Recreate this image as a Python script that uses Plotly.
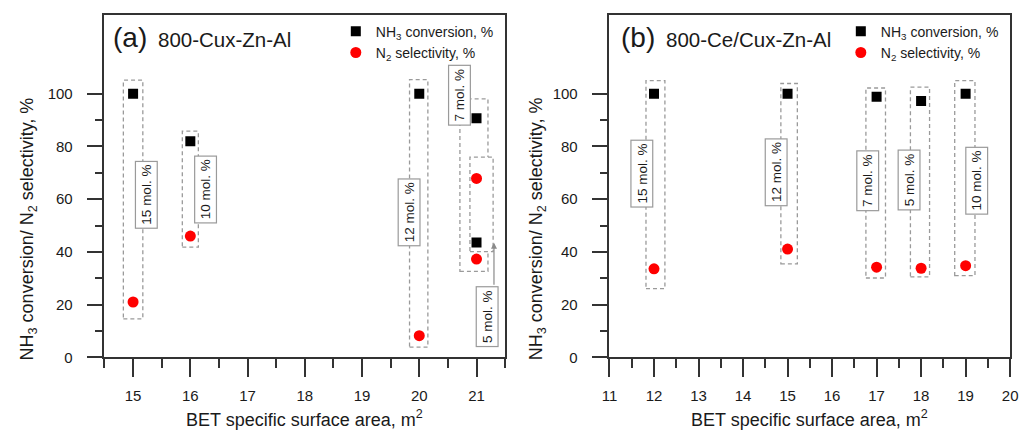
import plotly.graph_objects as go

# ---------------- data ----------------
# Panel (a): 800-Cux-Zn-Al
a_labels = ["15 mol. %", "10 mol. %", "12 mol. %", "7 mol. %", "5 mol. %"]
a_bet = [15, 16, 20, 21, 21]
a_nh3 = [100, 82, 100, 90.7, 43.6]
a_n2 = [21, 46, 8.2, 37.3, 67.9]

# Panel (b): 800-Ce/Cux-Zn-Al
b_labels = ["15 mol. %", "12 mol. %", "7 mol. %", "5 mol. %", "10 mol. %"]
b_bet = [12, 15, 17, 18, 19]
b_nh3 = [100, 100, 98.9, 97.3, 100]
b_n2 = [33.6, 41.1, 34.2, 33.8, 34.8]

a_xticks = [15, 16, 17, 18, 19, 20, 21]
b_xticks = [11, 12, 13, 14, 15, 16, 17, 18, 19, 20]
y_ticks = [0, 20, 40, 60, 80, 100]

# ---------------- decoration geometry ----------------
# dashed group boxes (x0, x1, y0, y1) in data units
a_boxes = [(14.83, 15.17, 14.6, 105.2), (15.86, 16.14, 41.8, 85.8),
           (19.83, 20.15, 3.9, 105.4), (20.71, 21.20, 32.6, 98.1),
           (20.885, 21.29, 40.1, 76.0)]
a_box_fill = [False, False, False, False, True]
a_label_pos = [(15.24, 61.6), (16.27, 63.6), (19.82, 55.0), (20.70, 99.4), (21.19, 15.4)]

b_boxes = [(11.82, 12.245, 26.1, 105.0), (14.85, 15.22, 35.5, 103.9),
           (16.76, 17.20, 30.1, 102.2), (17.76, 18.19, 30.5, 102.5),
           (18.755, 19.21, 31.0, 105.0)]
b_label_pos = [(11.73, 69.7), (14.74, 70.2), (16.79, 66.9), (17.74, 67.3), (19.255, 67.0)]

W, H = 1027, 437
FONT = "Liberation Sans, Arial, sans-serif"
AX = "#333333"
TXT = "#1a1a1a"


def px_x(p):
    return p / W


def px_y(p):
    return 1 - p / H


fig = go.Figure()

square = dict(symbol="square", size=10, color="black")
circle = dict(symbol="circle", size=11, color="#ff0000")

fig.add_trace(go.Scatter(x=a_bet, y=a_nh3, mode="markers", marker=square,
                         name="NH<sub>3</sub> conversion, %", xaxis="x", yaxis="y",
                         legend="legend"))
fig.add_trace(go.Scatter(x=a_bet, y=a_n2, mode="markers", marker=circle,
                         name="N<sub>2</sub> selectivity, %", xaxis="x", yaxis="y",
                         legend="legend"))
fig.add_trace(go.Scatter(x=b_bet, y=b_nh3, mode="markers", marker=square,
                         name="NH<sub>3</sub> conversion, %", xaxis="x2", yaxis="y2",
                         legend="legend2"))
fig.add_trace(go.Scatter(x=b_bet, y=b_n2, mode="markers", marker=circle,
                         name="N<sub>2</sub> selectivity, %", xaxis="x2", yaxis="y2",
                         legend="legend2"))

shapes = []
annotations = []

box_line = dict(color="#9a9a9a", width=1.3, dash="4px,3px")
for (x0, x1, y0, y1), fill in zip(a_boxes, a_box_fill):
    shapes.append(dict(type="rect", xref="x", yref="y", x0=x0, x1=x1, y0=y0, y1=y1,
                       line=box_line, fillcolor="white" if fill else "rgba(0,0,0,0)",
                       layer="below"))
for (x0, x1, y0, y1) in b_boxes:
    shapes.append(dict(type="rect", xref="x2", yref="y2", x0=x0, x1=x1, y0=y0, y1=y1,
                       line=box_line, fillcolor="rgba(0,0,0,0)", layer="below"))

lab_font = dict(family=FONT, size=13.5, color=TXT)
for t, (lx, ly) in zip(a_labels, a_label_pos):
    annotations.append(dict(x=lx, y=ly, xref="x", yref="y", text=t, showarrow=False,
                            textangle=-90, font=lab_font, bgcolor="white",
                            bordercolor="#9a9a9a", borderwidth=1.2, borderpad=3))
for t, (lx, ly) in zip(b_labels, b_label_pos):
    annotations.append(dict(x=lx, y=ly, xref="x2", yref="y2", text=t, showarrow=False,
                            textangle=-90, font=lab_font, bgcolor="white",
                            bordercolor="#9a9a9a", borderwidth=1.2, borderpad=3))

# arrow from "5 mol. %" label to its group box
annotations.append(dict(x=21.305, y=43.5, xref="x", yref="y", ax=21.305, ay=27.0,
                        axref="x", ayref="y", text="", showarrow=True, arrowhead=2,
                        arrowsize=1, arrowwidth=1.2, arrowcolor="#8a8a8a"))

# panel titles
annotations += [
    dict(x=px_x(105), y=px_y(38), xref="paper", yref="paper", text="(a)", showarrow=False,
         xanchor="left", yanchor="middle", font=dict(family=FONT, size=28, color=TXT)),
    dict(x=px_x(150), y=px_y(40), xref="paper", yref="paper", text="800-Cux-Zn-Al",
         showarrow=False, xanchor="left", yanchor="middle",
         font=dict(family=FONT, size=20.5, color=TXT)),
    dict(x=px_x(621), y=px_y(38), xref="paper", yref="paper", text="(b)", showarrow=False,
         xanchor="left", yanchor="middle", font=dict(family=FONT, size=28, color=TXT)),
    dict(x=px_x(666), y=px_y(40), xref="paper", yref="paper", text="800-Ce/Cux-Zn-Al",
         showarrow=False, xanchor="left", yanchor="middle",
         font=dict(family=FONT, size=20.5, color=TXT)),
]

# axis titles
ytitle = "NH<sub>3</sub> conversion/ N<sub>2</sub> selectivity, %"
xtitle = "BET specific surface area, m<sup>2</sup>"
title_font = dict(family=FONT, size=18, color=TXT)
annotations += [
    dict(x=px_x(21), y=px_y(233), xref="paper", yref="paper", text=ytitle, textangle=-90,
         showarrow=False, xanchor="center", yanchor="middle", font=title_font),
    dict(x=px_x(538), y=px_y(233), xref="paper", yref="paper", text=ytitle, textangle=-90,
         showarrow=False, xanchor="center", yanchor="middle", font=title_font),
    dict(x=px_x(301.5), y=px_y(426), xref="paper", yref="paper", text=xtitle,
         showarrow=False, xanchor="center", yanchor="middle", font=title_font),
    dict(x=px_x(814.5), y=px_y(426), xref="paper", yref="paper", text=xtitle,
         showarrow=False, xanchor="center", yanchor="middle", font=title_font),
]

tick_font = dict(family=FONT, size=15, color=TXT)


def xaxis(domain, rng, ticks, anchor):
    minor_vals = [t + 0.5 for t in range(int(rng[0] - 1), int(rng[1] + 1))]
    minor_vals = [v for v in minor_vals if rng[0] - 1e-9 <= v <= rng[1] + 1e-9 and v not in ticks]
    return dict(domain=domain, range=rng, tickmode="array", tickvals=ticks,
                ticks="outside", ticklen=18, tickwidth=1.5, tickcolor=AX,
                showline=True, linecolor=AX, linewidth=1.6, mirror=True,
                showgrid=False, zeroline=False, tickfont=tick_font, anchor=anchor,
                ticklabelstandoff=6,
                minor=dict(tickmode="array", tickvals=minor_vals, ticks="outside",
                           ticklen=9, tickwidth=1.5, tickcolor=AX, showgrid=False))


def yaxis(domain, anchor):
    return dict(domain=domain, range=[0, 130], tickmode="array", tickvals=y_ticks,
                ticks="outside", ticklen=16, tickwidth=1.5, tickcolor=AX,
                showline=True, linecolor=AX, linewidth=1.6, mirror=True,
                showgrid=False, zeroline=False, tickfont=tick_font, anchor=anchor,
                ticklabelstandoff=11,
                minor=dict(tickmode="array", tickvals=[10, 30, 50, 70, 90], ticks="outside",
                           ticklen=8, tickwidth=1.5, tickcolor=AX, showgrid=False))


ydom = [1 - 364 / H, 1 - 15 / H]
leg_font = dict(family=FONT, size=14, color=TXT)

fig.update_layout(
    width=W, height=H,
    margin=dict(l=0, r=0, t=0, b=0),
    paper_bgcolor="white", plot_bgcolor="white",
    font=dict(family=FONT, color=TXT),
    xaxis=xaxis([98 / W, 505 / W], [14.5, 21.5], a_xticks, "y"),
    yaxis=yaxis(ydom, "x"),
    xaxis2=xaxis([611 / W, 1018 / W], [11, 20], b_xticks, "y2"),
    yaxis2=yaxis(ydom, "x2"),
    legend=dict(x=px_x(333), y=px_y(16), xanchor="left", yanchor="top",
                font=leg_font, bgcolor="rgba(0,0,0,0)", borderwidth=0,
                tracegroupgap=0, itemsizing="trace"),
    legend2=dict(x=px_x(846), y=px_y(16), xanchor="left", yanchor="top",
                 font=leg_font, bgcolor="rgba(0,0,0,0)", borderwidth=0,
                 tracegroupgap=0, itemsizing="trace"),
    shapes=shapes,
    annotations=annotations,
)

fig.write_html("out.html")
